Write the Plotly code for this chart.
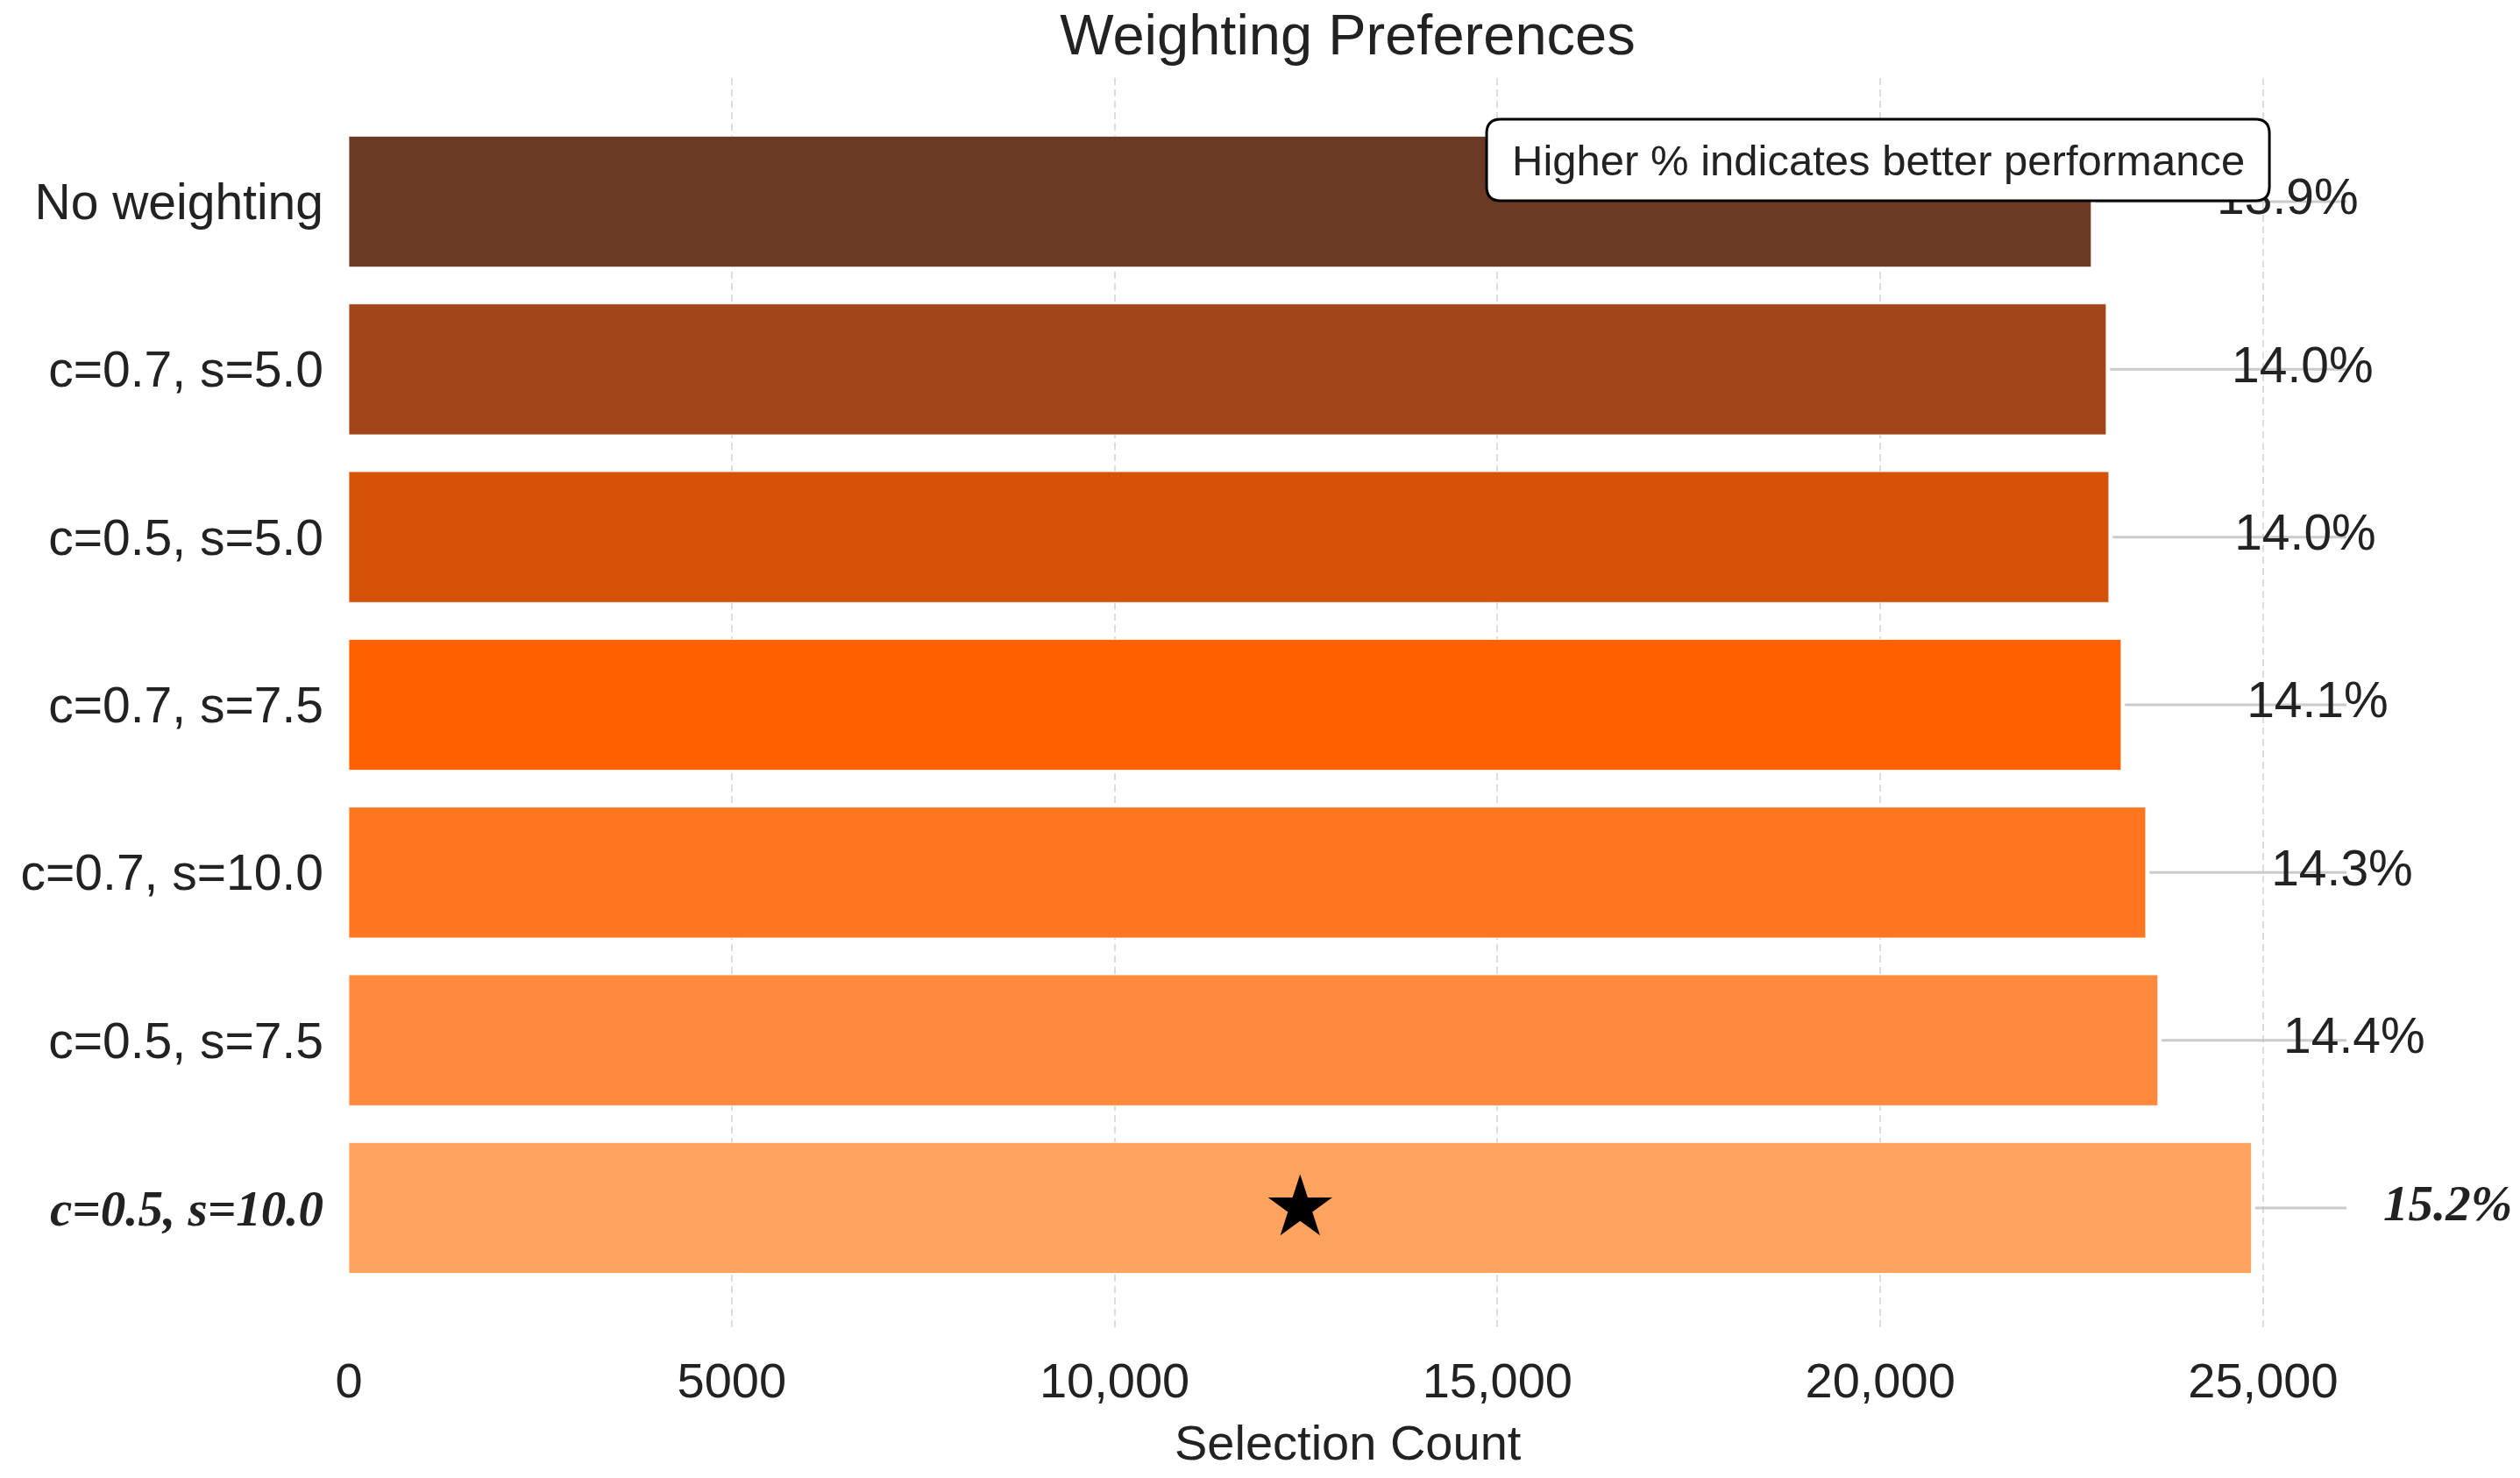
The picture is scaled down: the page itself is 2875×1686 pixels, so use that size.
import plotly.graph_objects as go

# ---- data ----
categories = ["No weighting", "c=0.7, s=5.0", "c=0.5, s=5.0", "c=0.7, s=7.5",
              "c=0.7, s=10.0", "c=0.5, s=7.5", "c=0.5, s=10.0"]
selection_counts = [22755, 22950, 22985, 23145, 23466, 23625, 24847]
percent_labels = [13.9, 14.0, 14.0, 14.1, 14.3, 14.4, 15.2]
bar_colors = ["#6B3A25", "#A0461A", "#D55308", "#FF6000", "#FF7620", "#FF8A3D", "#FFA35E"]
best_index = 6
x_tickvals = [0, 5000, 10000, 15000, 20000, 25000]
x_ticktext = ["0", "5000", "10,000", "15,000", "20,000", "25,000"]

SANS = "Liberation Sans, Arial, sans-serif"
SERIF_SPAN = "<span style=\"font-family:'Liberation Serif', 'Times New Roman', serif\"><b><i>{}</i></b></span>"

W, H = 2875, 1686
line_end = max(selection_counts) * 1.05      # leader lines end here
x_range_max = 28000                           # room for the labels
axis_px = 2279                                # pixel width of [0, line_end]
px_per_unit = axis_px / line_end
ML, MT, MB = 398, 89, 167
plot_w = x_range_max * px_per_unit
MR = W - ML - plot_w
PW, PH = plot_w, H - MT - MB
label_offset = 2565

fig = go.Figure()

fig.add_trace(go.Bar(
    y=categories, x=selection_counts, orientation="h",
    marker=dict(color=bar_colors, line=dict(color="rgba(255,255,255,0.8)", width=1)),
    width=0.78, showlegend=False, hoverinfo="skip",
))

# leader lines from bar end to right edge
lx, ly = [], []
for c, v in zip(categories, selection_counts):
    lx += [v + 50, line_end, None]
    ly += [c, c, None]
fig.add_trace(go.Scatter(
    x=lx, y=ly, mode="lines", line=dict(color="rgba(185,185,185,0.75)", width=3),
    showlegend=False, hoverinfo="skip",
))

# percentage labels
texts = []
for i, p in enumerate(percent_labels):
    t = f"{p:.1f}%"
    texts.append(SERIF_SPAN.format(t) if i == best_index else t)
fig.add_trace(go.Scatter(
    x=[v + label_offset for v in selection_counts], y=categories, mode="text",
    text=texts, textposition="middle center",
    textfont=dict(family=SANS, size=57, color="#222222"),
    showlegend=False, hoverinfo="skip", cliponaxis=False,
))

# star on best bar
fig.add_trace(go.Scatter(
    x=[selection_counts[best_index] / 2], y=[categories[best_index]], mode="markers",
    marker=dict(symbol="star", size=55, color="black", line=dict(width=0)),
    showlegend=False, hoverinfo="skip",
))

ticktext_y = [SERIF_SPAN.format(c) if i == best_index else c for i, c in enumerate(categories)]

# rounded annotation box (paper coords)
bx0, bx1 = (1696 - ML) / PW, (2589 - ML) / PW
by1, by0 = (MT + PH - 136) / PH, (MT + PH - 229) / PH
rx, ry = 16 / PW, 16 / PH
path = (f"M {bx0+rx} {by1} L {bx1-rx} {by1} Q {bx1} {by1} {bx1} {by1-ry} "
        f"L {bx1} {by0+ry} Q {bx1} {by0} {bx1-rx} {by0} "
        f"L {bx0+rx} {by0} Q {bx0} {by0} {bx0} {by0+ry} "
        f"L {bx0} {by1-ry} Q {bx0} {by1} {bx0+rx} {by1} Z")
fig.add_shape(type="path", path=path, xref="paper", yref="paper",
              fillcolor="white", line=dict(color="black", width=3), layer="above")

fig.add_annotation(
    x=(bx0 + bx1) / 2, y=(by0 + by1) / 2, xref="paper", yref="paper",
    text="Higher % indicates better performance", showarrow=False,
    font=dict(family=SANS, size=49, color="#222222"),
    xanchor="center", yanchor="middle",
)

# x-axis title centred under the [0, line_end] span
fig.add_annotation(
    x=(axis_px / 2) / PW, y=0, xref="paper", yref="paper", yshift=-126,
    text="Selection Count", showarrow=False,
    font=dict(family=SANS, size=56, color="#222222"),
    xanchor="center", yanchor="middle",
)

fig.update_layout(
    width=W, height=H,
    margin=dict(l=ML, r=MR, t=MT, b=MB, pad=0),
    paper_bgcolor="white", plot_bgcolor="white",
    font=dict(family=SANS, color="#222222"),
    title=dict(text="Weighting Preferences", x=(ML + axis_px / 2) / W, xref="container",
               xanchor="center", y=1 - 39 / H, yanchor="middle",
               font=dict(family=SANS, size=65, color="#222222")),
    xaxis=dict(
        range=[0, x_range_max], tickvals=x_tickvals, ticktext=x_ticktext,
        tickfont=dict(family=SANS, size=56, color="#222222"),
        showgrid=True, gridcolor="#DDDDDD", gridwidth=2, griddash="8px,5px",
        zeroline=False, showline=False, ticks="", ticklabelstandoff=18,
    ),
    yaxis=dict(
        type="category", categoryorder="array", categoryarray=categories,
        range=[6.737, -0.737], tickvals=categories, ticktext=ticktext_y,
        tickfont=dict(family=SANS, size=57, color="#222222"),
        showgrid=False, zeroline=False, showline=False, ticks="", ticklabelstandoff=28,
    ),
)

fig.write_html("out.html", config={"displayModeBar": False},
               post_script="document.body.style.margin='0';")
